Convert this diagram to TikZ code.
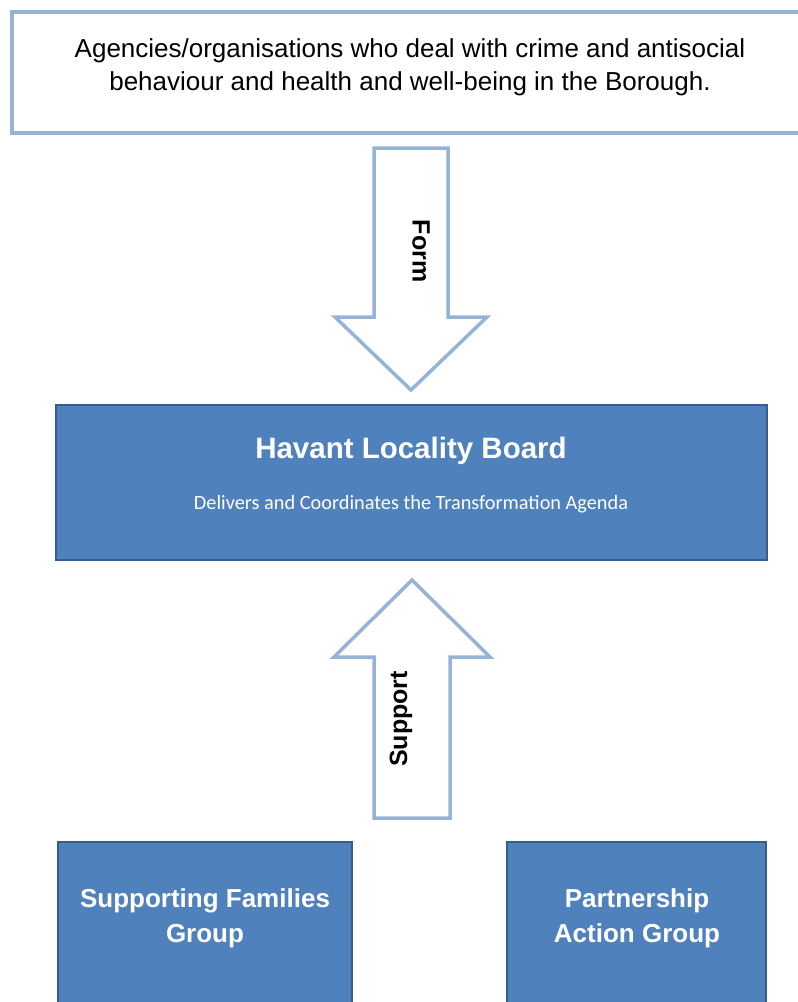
\documentclass[tikz,border=0pt]{standalone}
\usepackage{fontspec}
\setmainfont{Liberation Sans}
\newfontfamily\calibrifont{Carlito}
\definecolor{lblue}{HTML}{95B3D7}
\definecolor{dblue}{HTML}{4F81BD}
\definecolor{dedge}{HTML}{385D8A}
\begin{document}
\begin{tikzpicture}[x=1pt,y=-1pt,
  lightbox/.style={draw=lblue, line width=3.5pt, fill=white},
  darkbox/.style={draw=dedge, line width=2.8pt, fill=dblue},
  blockarrow/.style={draw=lblue, line width=3.5pt, fill=white, line join=miter},
  toptext/.style={font=\fontsize{26}{33}\selectfont, align=center, inner sep=0pt},
  whitetitle/.style={text=white, font=\bfseries\fontsize{29.5}{35}\selectfont, inner sep=0pt},
  whitesub/.style={text=white, font=\calibrifont\fontsize{20.3}{24}\selectfont, inner sep=0pt},
  grouptext/.style={text=white, font=\bfseries\fontsize{26}{35}\selectfont, align=center, inner sep=0pt},
  arrowtext/.style={font=\bfseries\fontsize{25}{30}\selectfont, inner sep=0pt}]
\useasboundingbox (0,0) rectangle (798,1002);
\clip (0,0) rectangle (798,1002);
\fill[white] (0,0) rectangle (798,1002);

% top box
\draw[lightbox] (12,12) rectangle (812,133);
\node[toptext] (agencies) at (410,67) {Agencies/organisations who deal with crime and antisocial\\behaviour and health and well-being in the Borough.};

% Form arrow
\draw[blockarrow] (374,148) -- (448,148) -- (448,317) -- (487,317) -- (411,390) -- (335,317) -- (374,317) -- cycle;
\node[arrowtext, rotate=-90] (form) at (421,251) {Form};

% Havant box
\draw[darkbox] (56,405) rectangle (767,560);
\node[whitetitle] (havant) at (411,451) {Havant Locality Board};
\node[whitesub] (delivers) at (411,504) {Delivers and Coordinates the Transformation Agenda};

% Support arrow
\draw[blockarrow] (374,818) -- (450,818) -- (450,657) -- (490,657) -- (412,580) -- (334,657) -- (374,657) -- cycle;
\node[arrowtext, rotate=90] (support) at (401,719) {Support};

% bottom boxes
\draw[darkbox] (58,842) rectangle (352,1015);
\node[grouptext] (families) at (205,918) {Supporting Families\\Group};
\draw[darkbox] (507,842) rectangle (766,1015);
\node[grouptext] (partnership) at (637,918) {Partnership\\Action Group};
\end{tikzpicture}
\end{document}
